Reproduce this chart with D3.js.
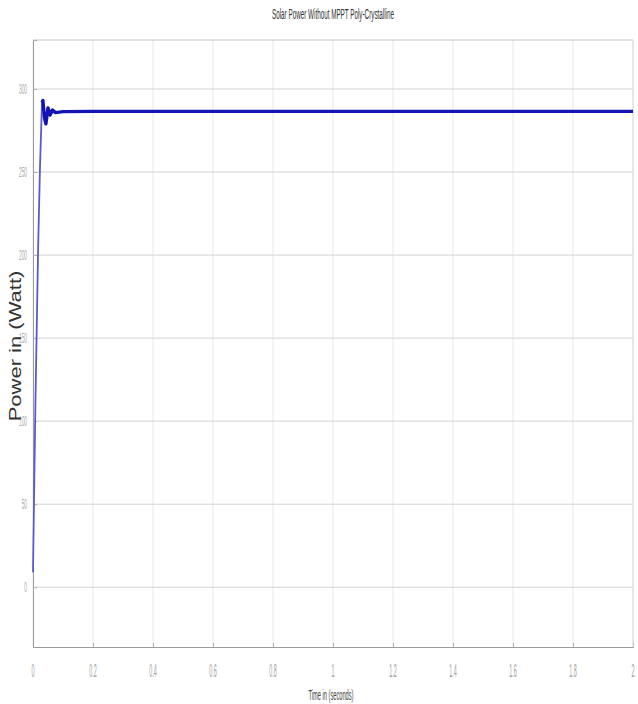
<!DOCTYPE html>
<html>
<head>
<meta charset="utf-8">
<script src="https://cdn.jsdelivr.net/npm/d3@7"></script>
<style>
  html, body { margin: 0; padding: 0; background: #fff; }
  svg { display: block; }
</style>
</head>
<body>
<svg id="chart" width="638" height="704"></svg>
<script>
// Simulated PV output power of a poly-crystalline panel without MPPT
const timeSec = [0, 0.004, 0.008, 0.017, 0.023, 0.030, 0.033, 0.038, 0.043, 0.050, 0.057, 0.065, 0.075,
                 0.1, 0.2, 0.4, 0.6, 0.8, 1.0, 1.2, 1.4, 1.6, 1.8, 2.0];
const powerW  = [9, 60, 110, 203, 251, 292, 293, 283, 279, 288.6, 284.3, 287.3, 285.8,
                 286.4, 286.5, 286.5, 286.5, 286.5, 286.5, 286.5, 286.5, 286.5, 286.5, 286.5];
const splitIndex = 5;   // end of the start-up ramp

const xTicks = [0, 0.2, 0.4, 0.6, 0.8, 1, 1.2, 1.4, 1.6, 1.8, 2];
const yTicks = [0, 50, 100, 150, 200, 250, 300];

const titleText = "Solar Power Without MPPT Poly-Crystalline";
const xLabel = "Time in (seconds)";
const yLabel = "Power in (Watt)";

const W = 638, H = 704;
const margin = { top: 40, right: 5, bottom: 57, left: 33 };
const iw = W - margin.left - margin.right;
const ih = H - margin.top - margin.bottom;

const svg = d3.select("#chart");
const g = svg.append("g").attr("transform", `translate(${margin.left},${margin.top})`);

const x = d3.scaleLinear().domain([0, 2]).range([0, iw]);
const y = d3.scaleLinear().domain([-36, 329.5]).range([ih, 0]);

// grid
g.append("g").selectAll("line").data(xTicks).join("line")
  .attr("x1", d => x(d)).attr("x2", d => x(d))
  .attr("y1", 0).attr("y2", ih)
  .attr("stroke", "#e8e8e8").attr("stroke-width", 1);
g.append("g").selectAll("line").data(yTicks).join("line")
  .attr("x1", 0).attr("x2", iw)
  .attr("y1", d => y(d)).attr("y2", d => y(d))
  .attr("stroke", "#d2d2d2").attr("stroke-width", 1);

// axes
const xAxis = g.append("g").attr("transform", `translate(0,${ih})`)
  .call(d3.axisBottom(x).tickValues(xTicks).tickSize(-4).tickFormat(d3.format("")));
const yAxis = g.append("g")
  .call(d3.axisLeft(y).tickValues(yTicks).tickSize(-4).tickFormat(d3.format("")));
[xAxis, yAxis].forEach(a => {
  a.select(".domain").attr("stroke", "#9a9a9a");
  a.selectAll(".tick line").attr("stroke", "#b0b0b0");
  a.selectAll(".tick text").remove();
});

// box top/right
g.append("line").attr("x1", 0).attr("x2", iw).attr("y1", 0).attr("y2", 0)
  .attr("stroke", "#c4c4c4");
g.append("line").attr("x1", iw).attr("x2", iw).attr("y1", 0).attr("y2", ih)
  .attr("stroke", "#dcdcdc");

// narrow tick labels
g.append("g").selectAll("text").data(xTicks).join("text")
  .attr("transform", d => `translate(${x(d)},${ih + 30}) scale(0.3,1)`)
  .attr("text-anchor", "middle")
  .attr("font-family", "Liberation Sans, Arial, sans-serif")
  .attr("font-size", 18).attr("fill", "#a0a0a0")
  .text(d => d3.format("")(d));
g.append("g").selectAll("text").data(yTicks).join("text")
  .attr("transform", d => `translate(-6,${y(d) + 5}) scale(0.32,1)`)
  .attr("text-anchor", "end")
  .attr("font-family", "Liberation Sans, Arial, sans-serif")
  .attr("font-size", 15).attr("fill", "#aaaaaa")
  .text(d => d);

// power curve: thin ramp, then thicker settled trace
const pts = timeSec.map((t, i) => [t, powerW[i]]);
const line = d3.line().x(d => x(d[0])).y(d => y(d[1]));
g.append("path").datum(pts.slice(0, splitIndex + 1))
  .attr("fill", "none").attr("stroke", "#5a5ad0").attr("stroke-width", 1.8)
  .attr("d", line);
g.append("path").datum(pts.slice(splitIndex))
  .attr("fill", "none").attr("stroke", "#1414b4").attr("stroke-width", 3.4)
  .attr("stroke-linejoin", "round")
  .attr("d", line);

// titles
svg.append("text")
  .attr("transform", `translate(${margin.left + iw / 2},19) scale(0.42,1)`)
  .attr("text-anchor", "middle")
  .attr("font-family", "Liberation Sans, Arial, sans-serif")
  .attr("font-size", 15).attr("fill", "#333")
  .text(titleText);
svg.append("text")
  .attr("transform", `translate(${margin.left + iw / 2 - 2},700) scale(0.38,1)`)
  .attr("text-anchor", "middle")
  .attr("font-family", "Liberation Sans, Arial, sans-serif")
  .attr("font-size", 15).attr("fill", "#444")
  .text(xLabel);
svg.append("text")
  .attr("transform", `translate(21,346) rotate(-90) scale(1,0.75)`)
  .attr("text-anchor", "middle")
  .attr("font-family", "Liberation Sans, Arial, sans-serif")
  .attr("font-size", 22).attr("fill", "#333")
  .text(yLabel);
</script>
</body>
</html>
